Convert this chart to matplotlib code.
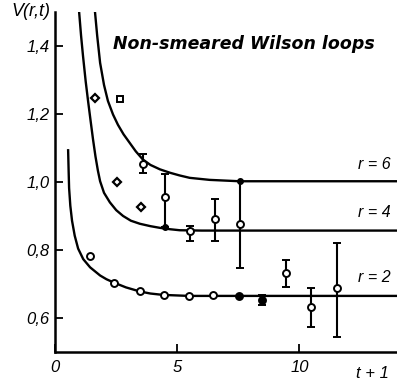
"""
Static potential V(r,t) from non-smeared Wilson loops, redrawn from a scanned figure.
"""
import matplotlib
matplotlib.use("Agg")
import matplotlib.pyplot as plt

# fitted curves, points (t+1, V)
curve_r2_t = [0.53, 0.55, 0.57, 0.62, 0.69, 0.80, 0.94, 1.15, 1.43, 1.84, 2.10, 2.41, 2.90, 3.47, 3.90,
              4.41, 5.47, 7.0, 10.0, 14.0]
curve_r2_v = [1.093, 1.035, 0.982, 0.930, 0.886, 0.842, 0.804, 0.773, 0.749, 0.725, 0.714, 0.704, 0.690,
              0.678, 0.672, 0.668, 0.665, 0.665, 0.665, 0.665]

curve_r4_t = [0.98, 1.06, 1.14, 1.25, 1.35, 1.45, 1.55, 1.65, 1.75, 1.84, 2.00, 2.24, 2.50, 2.78, 3.10,
              3.47, 3.90, 4.29, 4.70, 5.10, 6.0, 10.0, 14.0]
curve_r4_v = [1.50, 1.43, 1.37, 1.295, 1.236, 1.180, 1.125, 1.075, 1.033, 1.002, 0.968, 0.940, 0.917, 0.900,
              0.886, 0.877, 0.870, 0.865, 0.861, 0.858, 0.857, 0.857, 0.857]

curve_r6_t = [1.63, 1.72, 1.84, 2.00, 2.16, 2.37, 2.57, 2.80, 3.06, 3.30, 3.59, 3.90, 4.29, 4.70, 5.10,
              5.51, 6.33, 7.55, 10.0, 14.0]
curve_r6_v = [1.50, 1.43, 1.35, 1.285, 1.238, 1.198, 1.168, 1.140, 1.114, 1.090, 1.066, 1.050, 1.037, 1.027,
              1.019, 1.012, 1.006, 1.002, 1.002, 1.002]

# r = 2 data
r2_open_t = [1.43, 2.41, 3.47, 4.45, 5.47, 6.45]
r2_open_v = [0.783, 0.704, 0.679, 0.669, 0.666, 0.669]
r2_full_t = [7.51, 8.49]
r2_full_v = [0.666, 0.652]
r2_full_lo = [0.666, 0.637]
r2_full_hi = [0.666, 0.667]
r2_bar_t = [9.47, 10.49, 11.55]
r2_bar_v = [0.731, 0.631, 0.687]
r2_bar_lo = [0.690, 0.573, 0.544]
r2_bar_hi = [0.772, 0.687, 0.820]

# r = 4 data
r4_diam_t = [1.63, 2.53, 3.51]
r4_diam_v = [1.248, 0.999, 0.926]
r4_bar_t = [5.51, 6.53, 7.55]
r4_bar_v = [0.857, 0.891, 0.876]
r4_bar_lo = [0.827, 0.827, 0.748]
r4_bar_hi = [0.871, 0.950, 1.002]

# r = 6 data
r6_sq_t = [2.65]
r6_sq_v = [1.245]
r6_bar_t = [3.59, 4.49]
r6_bar_v = [1.052, 0.955]
r6_bar_lo = [1.026, 0.868]
r6_bar_hi = [1.081, 1.023]

# extra filled dots sitting on the curves at the ends of long bars
dot_t = [4.49, 7.55]
dot_v = [0.868, 1.002]

y_ticks = [0.6, 0.8, 1.0, 1.2, 1.4]
y_ticklabels = ["0,6", "0,8", "1,0", "1,2", "1,4"]
x_ticks = [0, 5, 10]
x_ticklabels = ["0", "5", "10"]

labels = ["r = 2", "r = 4", "r = 6"]
label_t = [13.75, 13.75, 13.75]
label_v = [0.72, 0.909, 1.052]


def errbar(ax, t, v, lo, hi, marker, fill):
    yerr = [[a - b for a, b in zip(v, lo)], [b - a for a, b in zip(v, hi)]]
    ax.errorbar(t, v, yerr=yerr, fmt=marker, color="k", mfc=fill, mec="k",
                ms=5, mew=1.4, elinewidth=1.5, capsize=3, capthick=1.5, zorder=4)


def main():
    plt.rcParams["font.family"] = ["Liberation Sans", "DejaVu Sans"]
    fig = plt.figure(figsize=(3.97, 3.81), dpi=100)
    ax = fig.add_axes([0.139, 0.076, 0.861, 0.893])

    for t, v in [(curve_r2_t, curve_r2_v), (curve_r4_t, curve_r4_v), (curve_r6_t, curve_r6_v)]:
        ax.plot(t, v, color="k", lw=1.7, zorder=3, solid_joinstyle="round")

    # r = 2
    ax.plot(r2_open_t, r2_open_v, "o", ms=5, mfc="white", mec="k", mew=1.4, zorder=5)
    errbar(ax, r2_full_t, r2_full_v, r2_full_lo, r2_full_hi, "o", "k")
    errbar(ax, r2_bar_t, r2_bar_v, r2_bar_lo, r2_bar_hi, "o", "white")

    # r = 4
    ax.plot(r4_diam_t, r4_diam_v, "D", ms=4.5, mfc="white", mec="k", mew=1.6, zorder=5)
    errbar(ax, r4_bar_t, r4_bar_v, r4_bar_lo, r4_bar_hi, "o", "white")

    # r = 6
    ax.plot(r6_sq_t, r6_sq_v, "s", ms=5, mfc="white", mec="k", mew=1.4, zorder=5)
    errbar(ax, r6_bar_t, r6_bar_v, r6_bar_lo, r6_bar_hi, "o", "white")

    ax.plot(dot_t, dot_v, "o", ms=4, color="k", zorder=6)

    for lab, t, v in zip(labels, label_t, label_v):
        ax.text(t, v, lab, ha="right", va="center", fontsize=11.5, style="italic")

    ax.text(2.35, 1.405, "Non-smeared Wilson loops", ha="left", va="center",
            fontsize=12.5, style="italic", fontweight="bold", family="DejaVu Sans")

    ax.set_xlim(0, 14)
    ax.set_ylim(0.5, 1.5)
    ax.set_yticks(y_ticks)
    ax.set_yticklabels(y_ticklabels, style="italic")
    ax.set_xticks(x_ticks)
    ax.set_xticklabels(x_ticklabels, style="italic")
    ax.tick_params(direction="in", length=6, width=1.3, labelsize=12, pad=4)
    ax.tick_params(axis="x", pad=6)

    ax.spines["top"].set_visible(False)
    ax.spines["right"].set_visible(False)
    for s in ("left", "bottom"):
        ax.spines[s].set_linewidth(1.8)

    ax.text(-0.015, 1.0, "V(r,t)", transform=ax.transAxes, ha="right", va="center",
            fontsize=13, style="italic")
    ax.text(13.0, -0.04, "t + 1", transform=ax.get_xaxis_transform(), ha="center",
            va="top", fontsize=12, style="italic")

    fig.savefig("out.png", dpi=100)
    plt.close(fig)


if __name__ == "__main__":
    main()
